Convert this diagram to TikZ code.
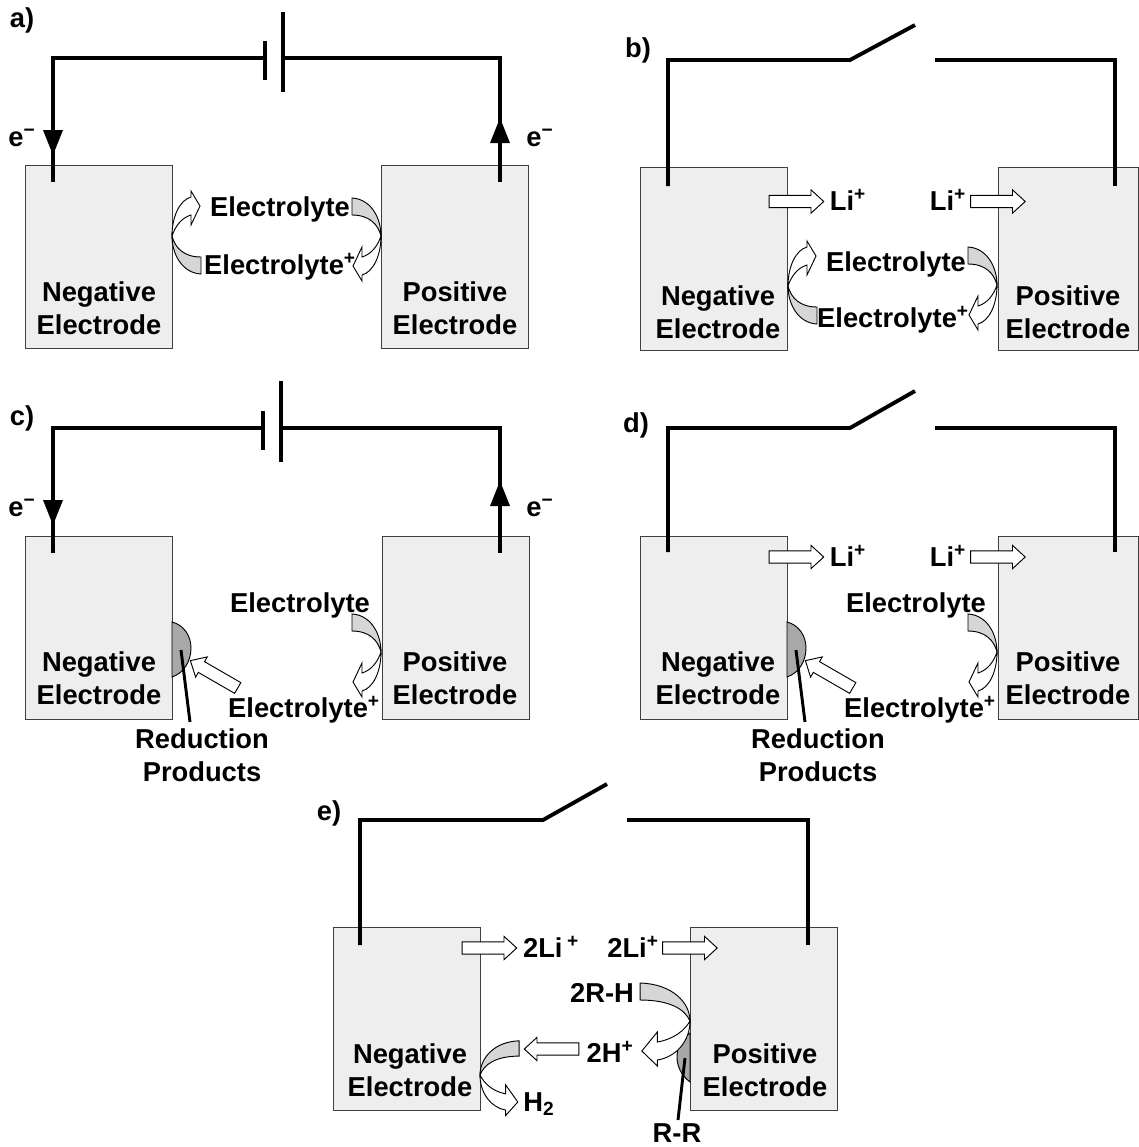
\documentclass[tikz,border=0pt]{standalone}
\usepackage{fontspec}
\setmainfont{Liberation Sans}
\usetikzlibrary{positioning,shapes.arrows}
\definecolor{boxgray}{HTML}{EEEEEE}
\definecolor{bandgray}{HTML}{D6D6D6}
\definecolor{blobgray}{HTML}{A8A8A8}
\tikzset{curvearrow/.pic={
\draw [thinline,fill=white] (0,0) .. controls (0,20) and (-8,36) .. (-19,39) -- (-19,45) -- (-28,30) -- (-19,11) -- (-19,21) .. controls (-9,18) and (-3,9) .. (0,0) -- cycle;
\draw [thinline,fill=bandgray] (-29,-38) .. controls (-10,-37) and (0,-18) .. (0,0) .. controls (-3,-12) and (-12,-21) .. (-29,-21) -- cycle;
}}

\begin{document}
\begin{tikzpicture}[x=0.75pt,y=-0.75pt]
\tikzstyle{every node}+=[inner sep=0pt,font=\bfseries\fontsize{20.5}{24.7}\selectfont]
\tikzstyle{electrode}=[draw=black!75,line width=0.9pt,fill=boxgray,anchor=north west,minimum width=110pt,minimum height=137pt]
\tikzstyle{wire}=[black,line width=2.9pt]
\tikzstyle{thinline}=[black,line width=0.7pt]
\tikzstyle{lbl}=[align=center]
\tikzstyle{blockarrow}=[draw=black,line width=0.7pt,fill=white,single arrow,inner ysep=4.3pt,single arrow head extend=4.1pt,single arrow tip angle=85,minimum height=41pt]
\useasboundingbox (0,0) rectangle (1139,1147);
% a)
\node [electrode] (negA) at (25,165) {};
\node [electrode] (posA) at (381,165) {};
\node [lbl] (negAtxt) at (99,308) {Negative\\Electrode};
\node [lbl] (posAtxt) at (455,308) {Positive\\Electrode};
\node (tagA) at (22,20) {a)};
\coordinate (negAend) at (53,182);
\coordinate (posAend) at (500,182);
\coordinate (battAl) at (265,58);
\coordinate (battAr) at (283,58);
\draw [wire] (negAend) |- (battAl);
\draw [wire] (battAr) -| (posAend);
\draw [wire] (265,41) -- (265,80);
\draw [wire] (283,12) -- (283,92);
\fill [black] (43,130) -- (63,130) -- (53,155);
\fill [black] (490,143) -- (510,143) -- (500,118);
\node (eAl) at (22,138) {e\textsuperscript{−}};
\node (eAr) at (540,138) {e\textsuperscript{−}};
\node (elecA) at (280,209) {Electrolyte};
\node (ionA) at (280,267) {Electrolyte\textsuperscript{+}};
\pic [rotate=180] (curveAl) at (172,236) {curvearrow};
\pic (curveAr) at (381,236) {curvearrow};
% b)
\node [electrode] (negB) at (640,167) {};
\node [electrode,minimum width=105pt] (posB) at (998,167) {};
\node [lbl] (negBtxt) at (718,312) {Negative\\Electrode};
\node [lbl] (posBtxt) at (1068,312) {Positive\\Electrode};
\node (tagB) at (638,50) {b)};
\coordinate (negBend) at (668,186);
\coordinate (posBend) at (1115,186);
\coordinate (swBl) at (850,60);
\coordinate (swBtip) at (915,25);
\coordinate (swBr) at (935,60);
\draw [wire] (negBend) |- (swBl) -- (swBtip);
\draw [wire] (swBr) -| (posBend);
\node [blockarrow] (liBl) at (793,201.5) {};
\node [blockarrow] (liBr) at (994.5,201.5) {};
\node (liBltxt) at (848,200) {Li\textsuperscript{+}};
\node (liBrtxt) at (948,200) {Li\textsuperscript{+}};
\node (elecB) at (896,264) {Electrolyte};
\node (ionB) at (893,320) {Electrolyte\textsuperscript{+}};
\pic [rotate=180] (curveBl) at (788,286) {curvearrow};
\pic (curveBr) at (997,285) {curvearrow};
% c)
\node [electrode] (negC) at (25,536) {};
\node [electrode] (posC) at (382,536) {};
\node [lbl] (negCtxt) at (99,678) {Negative\\Electrode};
\node [lbl] (posCtxt) at (455,678) {Positive\\Electrode};
\node (tagC) at (22,418) {c)};
\coordinate (negCend) at (53,553);
\coordinate (posCend) at (500,553);
\coordinate (battCl) at (263,428);
\coordinate (battCr) at (281,428);
\draw [wire] (negCend) |- (battCl);
\draw [wire] (battCr) -| (posCend);
\draw [wire] (263,411) -- (263,450);
\draw [wire] (281,381) -- (281,462);
\fill [black] (43,500) -- (63,500) -- (53,525);
\fill [black] (490,506) -- (510,506) -- (500,481);
\node (eCl) at (22,508) {e\textsuperscript{−}};
\node (eCr) at (540,508) {e\textsuperscript{−}};
\node (elecC) at (300,605) {Electrolyte};
\node (ionC) at (304,710) {Electrolyte\textsuperscript{+}};
\draw [thinline,fill=blobgray] (172,622) .. controls (184,625) and (191,636) .. (191,648) .. controls (191,661) and (184,673) .. (172,677) -- cycle;
\pic (curveCr) at (381,652) {curvearrow};
\node [blockarrow,rotate=150] (redC) at (217,676) {};
\coordinate (blobC) at (181,650);
\coordinate (prodC) at (190,722);
\draw [black,line width=2.2pt] (blobC) -- (prodC);
\node [lbl] (prodCtxt) at (202,755) {Reduction\\Products};
% d)
\node [electrode] (negD) at (640,536) {};
\node [electrode,minimum width=105pt] (posD) at (998,536) {};
\node [lbl] (negDtxt) at (718,678) {Negative\\Electrode};
\node [lbl] (posDtxt) at (1068,678) {Positive\\Electrode};
\node (tagD) at (636,425) {d)};
\coordinate (negDend) at (668,552);
\coordinate (posDend) at (1115,552);
\coordinate (swDl) at (850,428);
\coordinate (swDtip) at (915,391);
\coordinate (swDr) at (935,428);
\draw [wire] (negDend) |- (swDl) -- (swDtip);
\draw [wire] (swDr) -| (posDend);
\node [blockarrow] (liDl) at (793,557) {};
\node [blockarrow] (liDr) at (994.5,557) {};
\node (liDltxt) at (848,556) {Li\textsuperscript{+}};
\node (liDrtxt) at (948,556) {Li\textsuperscript{+}};
\node (elecD) at (916,605) {Electrolyte};
\node (ionD) at (920,710) {Electrolyte\textsuperscript{+}};
\draw [thinline,fill=blobgray] (787,622) .. controls (799,625) and (806,636) .. (806,648) .. controls (806,661) and (799,673) .. (787,677) -- cycle;
\pic (curveDr) at (997,652) {curvearrow};
\node [blockarrow,rotate=150] (redD) at (832,676) {};
\coordinate (blobD) at (796,650);
\coordinate (prodD) at (805,722);
\draw [black,line width=2.2pt] (blobD) -- (prodD);
\node [lbl] (prodDtxt) at (818,755) {Reduction\\Products};
% e)
\node [electrode] (negE) at (333,927) {};
\node [electrode] (posE) at (690,927) {};
\node [lbl] (negEtxt) at (410,1070) {Negative\\Electrode};
\node [lbl] (posEtxt) at (765,1070) {Positive\\Electrode};
\node (tagE) at (329,813) {e)};
\coordinate (negEend) at (360,945);
\coordinate (posEend) at (808,945);
\coordinate (swEl) at (543,820);
\coordinate (swEtip) at (607,784);
\coordinate (swEr) at (627,820);
\draw [wire] (negEend) |- (swEl) -- (swEtip);
\draw [wire] (swEr) -| (posEend);
\node [blockarrow] (liEl) at (486,948) {};
\node [blockarrow] (liEr) at (686.5,948) {};
\node (liEltxt) at (551,947) {2Li\,\textsuperscript{+}};
\node (liErtxt) at (633,947) {2Li\textsuperscript{+}};
\node (rhE) at (602,993) {2R-H};
\node (hplusE) at (610,1052) {2H\textsuperscript{+}};
\node (htwoE) at (539,1104) {H\textsubscript{2}};
\node (rrE) at (677,1133) {R-R};
\draw [thinline,fill=blobgray] (690,1033) .. controls (681,1040) and (677,1048) .. (677,1057) .. controls (677,1066) and (681,1075) .. (690,1082) -- cycle;
\pic [xscale=1.72] (curveEr) at (690,1021) {curvearrow};
\pic [xscale=-1.35,yscale=0.9] (curveEl) at (480,1075) {curvearrow};
\node [blockarrow,rotate=180] (hE) at (555,1049) {};
\coordinate (blobE) at (685,1058);
\coordinate (rrEend) at (678,1120);
\draw [black,line width=2.2pt] (blobE) -- (rrEend);
\end{tikzpicture}
\end{document}
